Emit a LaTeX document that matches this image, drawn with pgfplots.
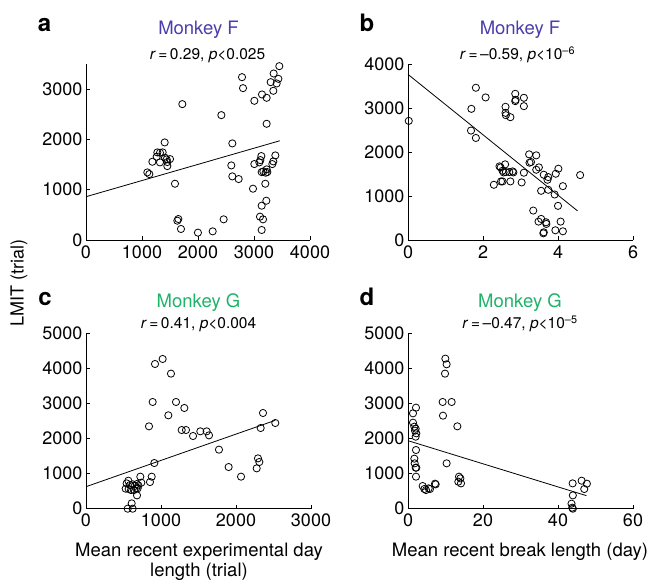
\documentclass[border=0pt]{standalone}
\usepackage{pgfplots}
\pgfplotsset{compat=1.18}
\usepackage{fontspec}
\setmainfont{TeX Gyre Heros}
\definecolor{monF}{HTML}{4B3DAA}
\definecolor{monG}{HTML}{1FB369}

\pgfplotsset{
 panel/.style={scale only axis, axis lines=left, axis line style={-,line width=0.8pt},
  tick align=inside, major tick length=4pt, tick style={line width=0.8pt,black},
  clip=false, scaled ticks=false,
  tick label style={font=\fontsize{18}{21}\selectfont},
  xticklabel style={yshift=-2pt},
  /pgf/number format/assume math mode=true,
  /pgf/number format/set thousands separator={}},
 pts/.style={only marks, mark=o, mark size=3.6pt, black, mark options={line width=0.8pt}},
 fit/.style={black, line width=0.8pt, no marks}
}

\begin{document}
\begin{tikzpicture}[x=1pt,y=1pt]
\path[use as bounding box] (0,0) rectangle (651,581);

% ---- a
\begin{axis}[panel, at={(86pt,341pt)}, anchor=south west, width=224pt, height=176pt,
  xmin=0, xmax=4000, ymin=0, ymax=3500, xtick={0,1000,...,4000}, ytick={0,1000,2000,3000}]
\addplot[pts] coordinates {
 (1095,1344) (1131,1311) (1185,1556) (1262,1656) (1274,1742) (1321,1735) (1369,1742)
 (1321,1543) (1411,1636) (1405,1940) (1440,1603) (1452,1550) (1452,1470) (1500,1609)
 (1589,1119) (1631,384) (1649,417) (1696,219) (1720,2702) (1999,146) (2262,172)
 (2417,2483) (2458,411) (2613,1921) (2595,1483) (2613,1265) (2726,1212) (2786,3238)
 (2804,3020) (2982,1020) (3006,2768) (3006,1510) (3095,1543) (3113,1589) (3131,1669)
 (3143,2894) (3137,1351) (3167,1364) (3208,1338) (3238,1351) (3202,1119) (3220,781)
 (3137,682) (3107,464) (3161,411) (3137,199) (3226,2828) (3226,2311) (3345,2967)
 (3298,3139) (3351,3311) (3435,3205) (3405,3113) (3452,3457) (3381,1682) (3345,1563)
 (3327,1510) (3226,1404)};
\addplot[fit] coordinates {(0,861) (3460,1973)};
\end{axis}

% ---- b
\begin{axis}[panel, at={(408pt,341pt)}, anchor=south west, width=225pt, height=176pt,
  xmin=0, xmax=6, ymin=0, ymax=4000, xtick={0,2,4,6}, ytick={0,1000,...,4000}]
\addplot[pts] coordinates {
 (0.02,2707) (1.68,2487) (1.81,2319) (1.69,2981) (1.81,3460) (2.07,3240) (2.29,1255)
 (2.48,1331) (2.52,1331) (2.44,1673) (2.47,1650) (2.52,1574) (2.55,1536) (2.59,1719)
 (2.61,1544) (2.70,1544) (2.73,1331) (2.79,1559) (2.81,1536) (2.60,3027) (2.60,2890)
 (2.61,2837) (2.73,2791) (2.86,3323) (2.86,3156) (2.87,3186) (3.09,3232) (3.09,3042)
 (3.03,1308) (3.09,1529) (3.23,1947) (3.24,1757) (3.28,1772) (3.42,1924) (3.42,1597)
 (3.49,1650) (3.62,1483) (3.74,1430) (3.72,1369) (3.55,1118) (3.74,1141) (3.91,1034)
 (3.94,1506) (4.01,1620) (4.13,1224) (4.00,776) (3.34,669) (3.48,418) (3.55,479)
 (3.68,403) (3.69,365) (3.61,152) (3.62,175) (3.93,221) (4.07,418) (4.13,198)
 (4.59,1475)};
\addplot[fit] coordinates {(0,3764) (4.52,662)};
\end{axis}

% ---- c
\begin{axis}[panel, at={(86pt,72.3pt)}, anchor=south west, width=225pt, height=175.4pt,
  xmin=0, xmax=3000, ymin=0, ymax=5000, xtick={0,1000,2000,3000}, ytick={0,1000,...,5000}]
\addplot[pts] coordinates {
 (542,722) (529,570) (564,798) (569,561) (587,675) (600,532) (622,694) (640,532)
 (649,646) (667,580) (676,703) (689,580) (698,665) (680,380) (724,913) (738,741)
 (609,152) (556,0) (622,0) (853,760) (876,913) (840,2348) (889,3042) (911,1302)
 (920,4125) (1022,4268) (1133,3850) (1098,2662) (1200,3042) (1311,2871) (1276,2243)
 (1333,2243) (1427,2072) (1524,2205) (1609,2205) (1640,2091) (1773,1683) (1902,1188)
 (2067,913) (2276,1150) (2293,1435) (2311,1331) (2329,2300) (2360,2728) (2524,2443)};
\addplot[fit] coordinates {(0,627) (2524,2519)};
\end{axis}

% ---- d
\begin{axis}[panel, at={(408pt,72.3pt)}, anchor=south west, width=225pt, height=175.4pt,
  xmin=0, xmax=60, ymin=0, ymax=5000, xtick={0,20,40,60}, ytick={0,1000,...,5000}]
\addplot[pts] coordinates {
 (1.33,2719) (2.13,2880) (1.33,2452) (1.69,2338) (2.04,2281) (1.87,2224) (2.22,2148)
 (2.04,2053) (2.13,1673) (1.69,1426) (1.78,1293) (2.04,1169) (2.22,1169) (2.13,913)
 (3.91,646) (4.36,561) (4.80,532) (5.51,580) (5.87,561) (7.2,713) (7.38,694)
 (9.96,4278) (10.3,4116) (9.87,3850) (9.24,3042) (9.33,2652) (11.64,3042) (10.3,1293)
 (13.16,2348) (13.6,913) (13.96,865) (13.42,770) (14.13,722) (43.9,722) (43.96,380)
 (43.6,143) (43.8,29) (43.96,0) (46.3,798) (47.7,713) (47.0,561)};
\addplot[fit] coordinates {(0,1939) (47.6,371)};
\end{axis}

% titles and labels
\tikzset{lbl/.style={inner sep=0pt, anchor=base}}
\node[lbl, font=\fontsize{24}{28}\selectfont\bfseries] at (44.5,549) {a};
\node[lbl, font=\fontsize{24}{28}\selectfont\bfseries] at (367,549) {b};
\node[lbl, font=\fontsize{24}{28}\selectfont\bfseries] at (45,275) {c};
\node[lbl, font=\fontsize{24}{28}\selectfont\bfseries] at (367,275) {d};

\node[lbl, font=\fontsize{18.5}{22}\selectfont, text=monF] at (198.5,546) {Monkey F};
\node[lbl, font=\fontsize{15.5}{18}\selectfont] at (207.5,521) {\textit{r}\,=\,0.29, \textit{p}<0.025};
\node[lbl, font=\fontsize{18.5}{22}\selectfont, text=monF] at (520,546) {Monkey F};
\node[lbl, font=\fontsize{15.5}{18}\selectfont] at (517.5,521) {\textit{r}\,=\,\textendash0.59, \textit{p}<10\textsuperscript{\textendash6}};
\node[lbl, font=\fontsize{18.5}{22}\selectfont, text=monG] at (198.5,273) {Monkey G};
\node[lbl, font=\fontsize{15.5}{18}\selectfont] at (198.5,252) {\textit{r}\,=\,0.41, \textit{p}<0.004};
\node[lbl, font=\fontsize{18.5}{22}\selectfont, text=monG] at (520,273) {Monkey G};
\node[lbl, font=\fontsize{15.5}{18}\selectfont] at (520,252) {\textit{r}\,=\,\textendash0.47, \textit{p}<10\textsuperscript{\textendash5}};

\node[font=\fontsize{18}{21}\selectfont, rotate=90] at (19,298) {LMIT (trial)};
\node[lbl, font=\fontsize{18.5}{22}\selectfont] at (199,24.3) {Mean recent experimental day};
\node[lbl, font=\fontsize{18.5}{22}\selectfont] at (199,4) {length (trial)};
\node[lbl, font=\fontsize{18.5}{22}\selectfont] at (520,24.3) {Mean recent break length (day)};
\end{tikzpicture}
\end{document}
